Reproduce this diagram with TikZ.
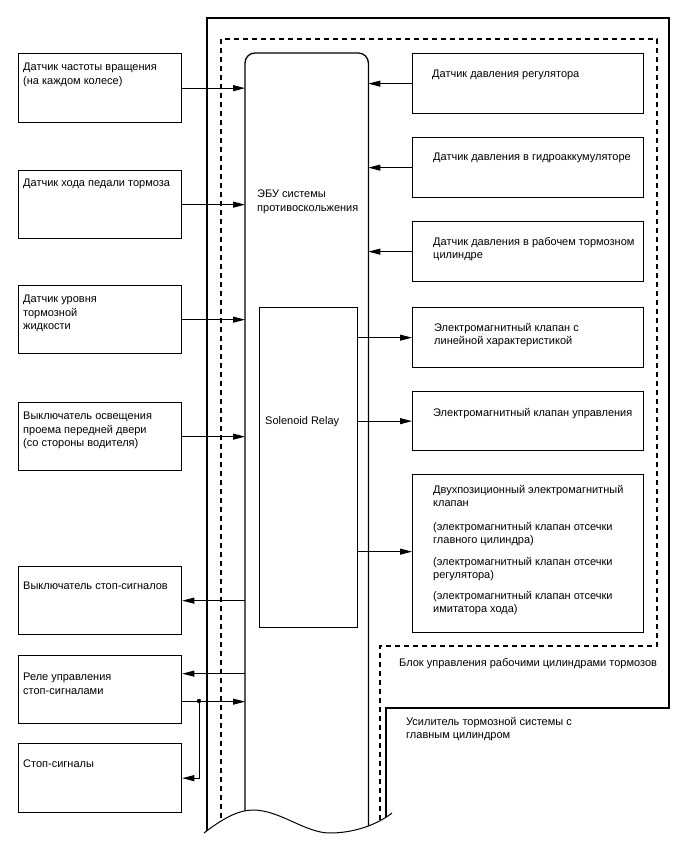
\documentclass[tikz,border=0pt]{standalone}
\usepackage{fontspec}
\setmainfont{Liberation Sans}
\usetikzlibrary{arrows.meta}
\begin{document}
\begin{tikzpicture}[x=1pt,y=-1pt,
  box/.style={draw, line width=1.3pt, anchor=north west, inner sep=0pt, minimum width=163pt},
  rbox/.style={draw, line width=1.3pt, anchor=north west, inner sep=0pt, minimum width=231pt},
  txt/.style={anchor=north west, inner sep=0pt, align=left, font=\fontsize{11}{13.5}\selectfont},
  arr/.style={line width=0.9pt, -{Triangle[length=12pt,width=6pt]}},
  dsh/.style={line width=1.3pt, dash pattern=on 5pt off 4pt},
  frame/.style={line width=1.3pt}
]
\useasboundingbox (0,0) rectangle (688,852);

% left boxes
\node[box, minimum height=69pt] (b1) at (18,53) {};
\node[box, minimum height=68pt] (b2) at (18,170) {};
\node[box, minimum height=68pt] (b3) at (18,285) {};
\node[box, minimum height=68pt] (b4) at (18,402) {};
\node[box, minimum height=68pt] (b5) at (18,566) {};
\node[box, minimum height=68pt] (b6) at (18,655) {};
\node[box, minimum height=69pt] (b7) at (18,743) {};

% right boxes
\node[rbox, minimum height=60pt] (r1) at (412,53) {};
\node[rbox, minimum height=60pt] (r2) at (412,137) {};
\node[rbox, minimum height=60pt] (r3) at (412,221) {};
\node[rbox, minimum height=60pt] (r4) at (412,307) {};
\node[rbox, minimum height=59pt] (r5) at (412,391) {};
\node[rbox, minimum height=158pt] (r6) at (412,474) {};

% ECU (outline drawn below) and solenoid relay
\node[anchor=north west, inner sep=0pt, minimum width=123pt, minimum height=790pt] (ecu) at (245,53) {};
\node[draw, line width=1.3pt, anchor=north west, inner sep=0pt, minimum width=98pt, minimum height=320pt] (sol) at (259,307) {};

% frames cut by the wavy line
\begin{scope}
\clip (0,0) -- (688,0) -- (688,852) -- (400,852) -- (400,806) -- (392,813)
  .. controls (378,824) and (355,833) .. (330,833)
  .. controls (305,833) and (280,810) .. (253,810)
  .. controls (238,810) and (222,819) .. (204,833)
  -- (195,838) -- (195,852) -- (0,852) -- cycle;
\draw[frame] (207,845) -- (207,18) -- (669,18) -- (669,708) -- (386,708) -- (386,845);
\draw[dsh] (221,845) -- (221,39) -- (657,39) -- (657,646) -- (380,646) -- (380,845);
\draw[frame, rounded corners=10pt] (ecu.south west) -- (ecu.north west) -- (ecu.north east) -- (ecu.south east);
\end{scope}
\draw[line width=1pt] (204,833) .. controls (222,819) and (238,810) .. (253,810)
  .. controls (280,810) and (305,833) .. (330,833)
  .. controls (355,833) and (378,824) .. (392,813);

% connectors left
\draw[arr] (b1.east) -- (b1.east -| ecu.west);
\draw[arr] (b2.east) -- (b2.east -| ecu.west);
\draw[arr] (b3.east) -- (b3.east -| ecu.west);
\draw[arr] (b4.east) -- (b4.east -| ecu.west);
\draw[arr] (b5.east -| ecu.west) -- (b5.east);
\coordinate (b6o) at ([yshift=16pt]b6.east);
\coordinate (b6i) at ([yshift=-12pt]b6.east);
\draw[arr] (b6o -| ecu.west) -- (b6o);
\draw[arr] (b6i) -- (b6i -| ecu.west);
\coordinate (j) at (199,701);
\fill (j) circle (2.2pt);
\draw[arr] (j) |- (b7.east);

% connectors right
\draw[arr] (r1.west) -- (r1.west -| ecu.east);
\draw[arr] (r2.west) -- (r2.west -| ecu.east);
\draw[arr] (r3.west) -- (r3.west -| ecu.east);
\draw[arr] (r4.west -| sol.east) -- (r4.west);
\draw[arr] (r5.west -| sol.east) -- (r5.west);
\draw[arr] ([yshift=2pt]r6.west -| sol.east) -- ([yshift=2pt]r6.west);

% texts
\node[txt] (t1) at (23,63) {Датчик частоты вращения\\(на каждом колесе)};
\node[txt] (t2) at (23,179) {Датчик хода педали тормоза};
\node[txt] (t3) at (23,295) {Датчик уровня\\тормозной\\жидкости};
\node[txt] (t4) at (23,412) {Выключатель освещения\\проема передней двери\\(со стороны водителя)};
\node[txt] (t5) at (23,582) {Выключатель стоп-сигналов};
\node[txt] (t6) at (23,673) {Реле управления\\стоп-сигналами};
\node[txt] (t7) at (23,760) {Стоп-сигналы};

\node[txt] (tr1) at (432,70) {Датчик давления регулятора};
\node[txt] (tr2) at (433,153) {Датчик давления в гидроаккумуляторе};
\node[txt] (tr3) at (433,237) {Датчик давления в рабочем тормозном\\цилиндре};
\node[txt] (tr4) at (434,323) {Электромагнитный клапан с\\линейной характеристикой};
\node[txt] (tr5) at (433,408) {Электромагнитный клапан управления};
\node[txt] (tr6a) at (433,485) {Двухпозиционный электромагнитный\\клапан};
\node[txt] (tr6b) at (433,522) {(электромагнитный клапан отсечки\\главного цилиндра)};
\node[txt] (tr6c) at (433,557) {(электромагнитный клапан отсечки\\регулятора)};
\node[txt] (tr6d) at (433,591) {(электромагнитный клапан отсечки\\имитатора хода)};

\node[txt] (tecu) at (257,190) {ЭБУ системы\\противоскольжения};
\node[txt] (tsol) at (265,416) {Solenoid Relay};
\node[txt] (lab1) at (399,658) {Блок управления рабочими цилиндрами тормозов};
\node[txt] (lab2) at (406,717) {Усилитель тормозной системы с\\главным цилиндром};
\end{tikzpicture}
\end{document}
